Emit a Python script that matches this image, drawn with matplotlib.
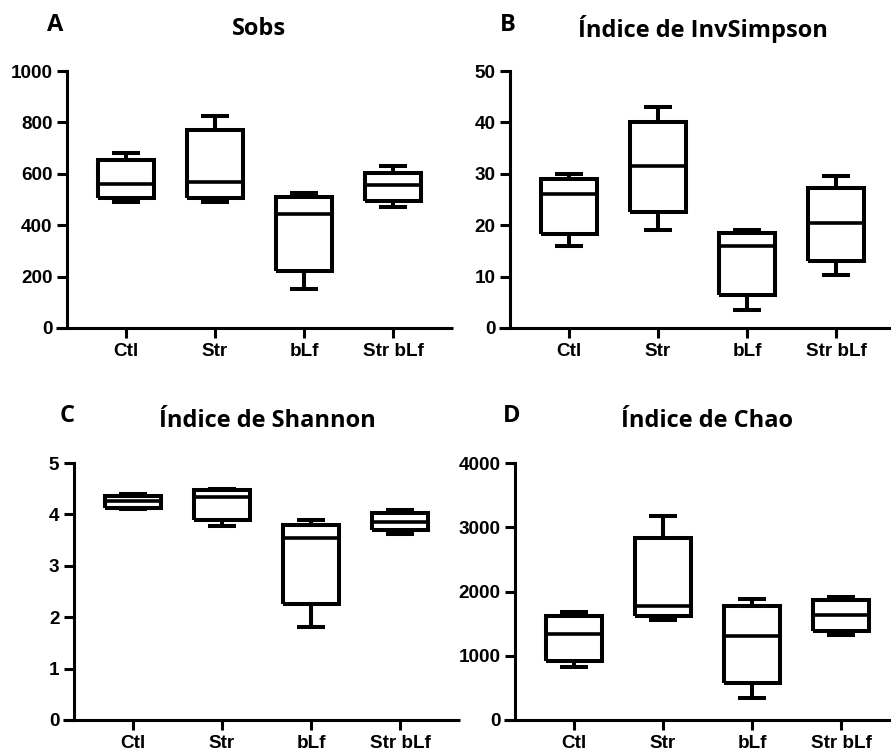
import numpy as np
import matplotlib
matplotlib.use("Agg")
import matplotlib.pyplot as plt

groups = ["Ctl", "Str", "bLf", "Str bLf"]

# five-number summaries: min, q1, median, q3, max
sobs = [[490, 505, 560, 655, 680],
        [490, 505, 570, 770, 825],
        [150, 220, 445, 510, 525],
        [470, 495, 555, 605, 630]]
invsimpson = [[16, 18.2, 26, 29, 30],
              [19, 22.5, 31.5, 40, 43],
              [3.5, 6.5, 16, 18.5, 19],
              [10.3, 13, 20.5, 27.2, 29.5]]
shannon = [[4.1, 4.13, 4.27, 4.35, 4.4],
           [3.78, 3.9, 4.33, 4.47, 4.5],
           [1.8, 2.25, 3.55, 3.8, 3.9],
           [3.62, 3.7, 3.85, 4.03, 4.08]]
chao = [[820, 920, 1340, 1620, 1680],
        [1560, 1620, 1770, 2830, 3180],
        [350, 570, 1300, 1770, 1890],
        [1320, 1390, 1640, 1860, 1910]]

titles = ["Sobs", "Índice de InvSimpson", "Índice de Shannon", "Índice de Chao"]
letters = ["A", "B", "C", "D"]
yticks = [np.arange(0, 1001, 200), np.arange(0, 51, 10),
          np.arange(0, 6, 1), np.arange(0, 4001, 1000)]

W, H = 891, 752
fig = plt.figure(figsize=(W / 100, H / 100), dpi=100)

# pixel layout: (y-axis x, axis right end, top of y range, y=0 row)
layout = [(67, 453, 71, 328), (510, 891, 71, 328),
          (74, 460, 463, 720), (515, 891, 463, 720)]
title_pos = [(259, 29), (703, 29), (267, 421), (707, 421)]
letter_pos = [(55, 25), (508, 25), (67, 416), (512, 416)]

sp = 89.0  # pixels between groups
lw_box = 2.9
lw_ax = 2.2

for i, data in enumerate([sobs, invsimpson, shannon, chao]):
    yx, right, top, bot = layout[i]
    left = yx - 11
    ax = fig.add_axes([left / W, 1 - bot / H, (right - left) / W, (bot - top) / H])
    x0 = 1 - (yx + 59 - left) / sp
    x1 = 1 + (right - (yx + 59)) / sp
    ax.set_xlim(x0, x1)
    ymax = yticks[i][-1]
    ax.set_ylim(0, ymax)

    stats = []
    for g, v in zip(groups, data):
        stats.append(dict(label=g, whislo=v[0], q1=v[1], med=v[2], q3=v[3],
                          whishi=v[4], fliers=[]))
    lp = dict(color="black", linewidth=lw_box, solid_capstyle="butt",
              solid_joinstyle="miter")
    ax.bxp(stats, positions=[1, 2, 3, 4], widths=0.63, capwidths=0.32,
           showfliers=False, boxprops=lp, whiskerprops=lp, capprops=lp,
           medianprops=dict(color="black", linewidth=2.6), manage_ticks=False)

    for s in ["top", "right"]:
        ax.spines[s].set_visible(False)
    ax.spines["bottom"].set_linewidth(lw_ax)
    ax.spines["left"].set_linewidth(lw_ax)
    ax.spines["left"].set_position(("data", 1 - 59 / sp))
    ax.spines["left"].set_bounds(0, ymax)
    ax.spines["bottom"].set_capstyle("butt")

    ax.set_xticks([1, 2, 3, 4])
    ax.set_xticklabels(groups)
    ax.set_yticks(yticks[i])
    ax.tick_params(axis="both", length=7.5, width=lw_ax, pad=3,
                   labelsize=13.6, direction="out")
    for lab in ax.get_xticklabels() + ax.get_yticklabels():
        lab.set_fontfamily("Liberation Sans")
        lab.set_fontweight("bold")
    ax.patch.set_visible(False)

    tx, ty = title_pos[i]
    fig.text(tx / W, 1 - ty / H, titles[i], ha="center", va="center",
             fontsize=17, fontweight="bold", family="Open Sans")
    lx, ly = letter_pos[i]
    fig.text(lx / W, 1 - ly / H, letters[i], ha="center", va="center",
             fontsize=17, fontweight="bold", family="Open Sans")

fig.savefig("out.png", dpi=100)
